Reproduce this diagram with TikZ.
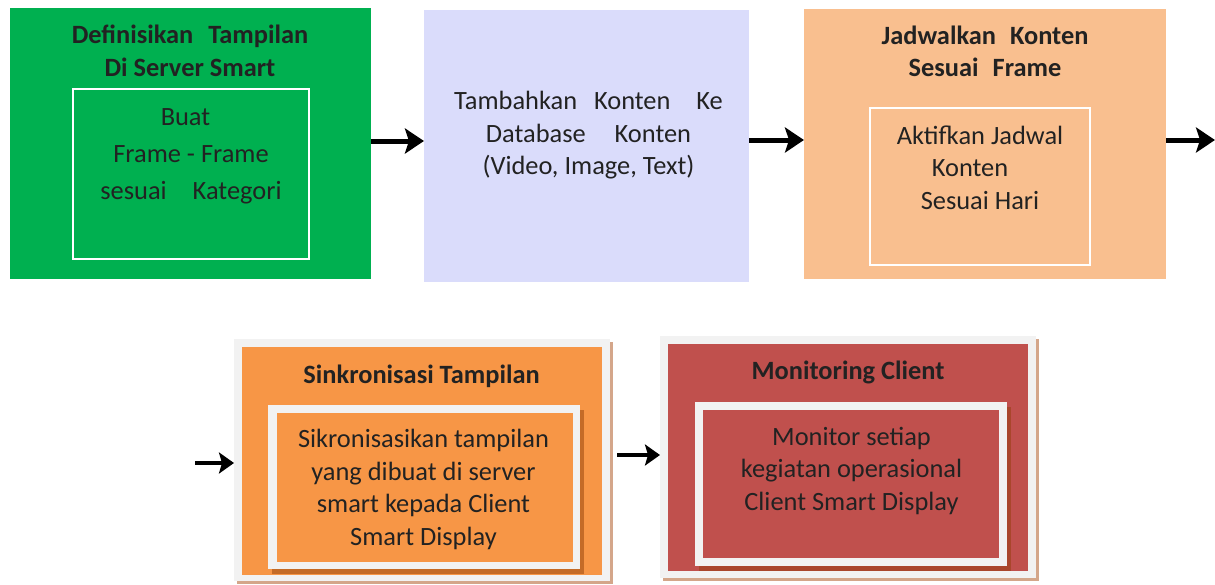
\documentclass[tikz,border=0pt]{standalone}
\usepackage{fontspec}
\setmainfont{Carlito}
\usetikzlibrary{arrows.meta}
\definecolor{tc}{HTML}{222222}
\definecolor{cgreen}{HTML}{00B050}
\definecolor{clav}{HTML}{DADCFB}
\definecolor{cpeach}{HTML}{F9BF8F}
\definecolor{corange}{HTML}{F79646}
\definecolor{cred}{HTML}{C0504D}
\definecolor{cgray}{HTML}{F2F2F2}
\definecolor{ctan}{HTML}{D4A68A}
\definecolor{cdorange}{HTML}{C46B27}
\definecolor{cdred}{HTML}{A9462C}
\begin{document}
\begin{tikzpicture}[x=1pt,y=-1pt,
  box/.style={rectangle, inner sep=0, outer sep=0, draw=none},
  wframe/.style={rectangle, inner sep=0, outer sep=0, draw=white, line width=2pt},
  txt/.style={align=center, text=tc, inner sep=0, font=\fontsize{26.4}{32.5}\selectfont},
  ttl/.style={align=center, text=tc, inner sep=0, font=\bfseries\fontsize{26.4}{32.5}\selectfont},
  arr/.style={line width=5pt, -{Stealth[length=19pt,width=25pt,inset=4pt]}},
  arrs/.style={line width=4pt, -{Stealth[length=15pt,width=21pt,inset=3pt]}},
]
\useasboundingbox (0,0) rectangle (1215,584);

% ---- top row ----
\node[box, fill=cgreen, minimum width=361pt, minimum height=271pt] (b1) at (190.5,143.5) {};
\node[wframe, minimum width=236pt, minimum height=170pt] (b1i) at (191,174) {};
\node[ttl] (b1t) at (190,51) {Definisikan\hspace{15pt}Tampilan\\Di Server Smart};
\node[txt, font=\fontsize{26.4}{37}\selectfont] (b1x) at (191,156) {Buat\rule{11pt}{0pt}\\Frame - Frame\\sesuai\hspace{26pt}Kategori};

\node[box, fill=clav, minimum width=325pt, minimum height=272pt] (b2) at (586.5,146) {};
\node[txt] (b2x) at (588.5,135.5) {Tambahkan\hspace{17pt}Konten\hspace{26pt}Ke\\Database\hspace{29pt}Konten\\(Video, Image, Text)};

\node[box, fill=cpeach, minimum width=362pt, minimum height=270pt] (b3) at (985,144) {};
\node[wframe, minimum width=220pt, minimum height=157pt] (b3i) at (980,186.5) {};
\node[ttl] (b3t) at (985,51.5) {Jadwalkan\hspace{14pt}Konten\\Sesuai\hspace{14pt}Frame};
\node[txt] (b3x) at (980,167.5) {Aktifkan Jadwal\\Konten\rule{20pt}{0pt}\\Sesuai Hari};

% ---- bottom row ----
\node[box, fill=ctan, minimum width=376pt, minimum height=242pt] (b4s) at (425,463) {};
\node[box, fill=cgray, minimum width=376pt, minimum height=242pt] (b4) at (422,460) {};
\node[box, fill=corange, minimum width=360pt, minimum height=228pt] (b4o) at (422,461) {};
\node[box, fill=cdorange, minimum width=312pt, minimum height=164pt] (b4is) at (428,492) {};
\node[box, fill=cgray, minimum width=312pt, minimum height=164pt] (b4w) at (424,487) {};
\node[box, fill=corange, minimum width=296pt, minimum height=149pt] (b4i) at (425,487.5) {};
\node[ttl, anchor=base] (b4t) at (421.5,383) {Sinkronisasi Tampilan};
\node[txt] (b4x) at (423.5,489.5) {Sikronisasikan tampilan\\yang dibuat di server\\smart kepada Client\\Smart Display};

\node[box, fill=ctan, minimum width=376pt, minimum height=242pt] (b5s) at (851,460) {};
\node[box, fill=cgray, minimum width=376pt, minimum height=242pt] (b5) at (848,457) {};
\node[box, fill=cred, minimum width=360pt, minimum height=227pt] (b5o) at (848,457.5) {};
\node[box, fill=cdred, minimum width=312pt, minimum height=164pt] (b5is) at (855,489) {};
\node[box, fill=cgray, minimum width=312pt, minimum height=164pt] (b5w) at (851,484) {};
\node[box, fill=cred, minimum width=296pt, minimum height=148pt] (b5i) at (851,484) {};
\node[ttl, anchor=base] (b5t) at (848,379) {Monitoring Client};
\node[txt] (b5x) at (851.5,470.5) {Monitor setiap\\kegiatan operasional\\Client Smart Display};

% ---- connectors ----
\coordinate (y1) at (0,141);
\coordinate (y2) at (0,140);
\coordinate (e3) at (1215,140);
\coordinate (s4) at (195,463);
\coordinate (s5) at (617,455);
\draw[arr] (b1.east |- y1) -- (b2.west |- y1);
\draw[arr] (b2.east |- y2) -- (b3.west |- y2);
\draw[arr] (b3.east |- y2) -- (e3);
\draw[arrs] (s4) -- (b4.west |- s4);
\draw[arrs] (s5) -- (b5.west |- s5);
\end{tikzpicture}
\end{document}
